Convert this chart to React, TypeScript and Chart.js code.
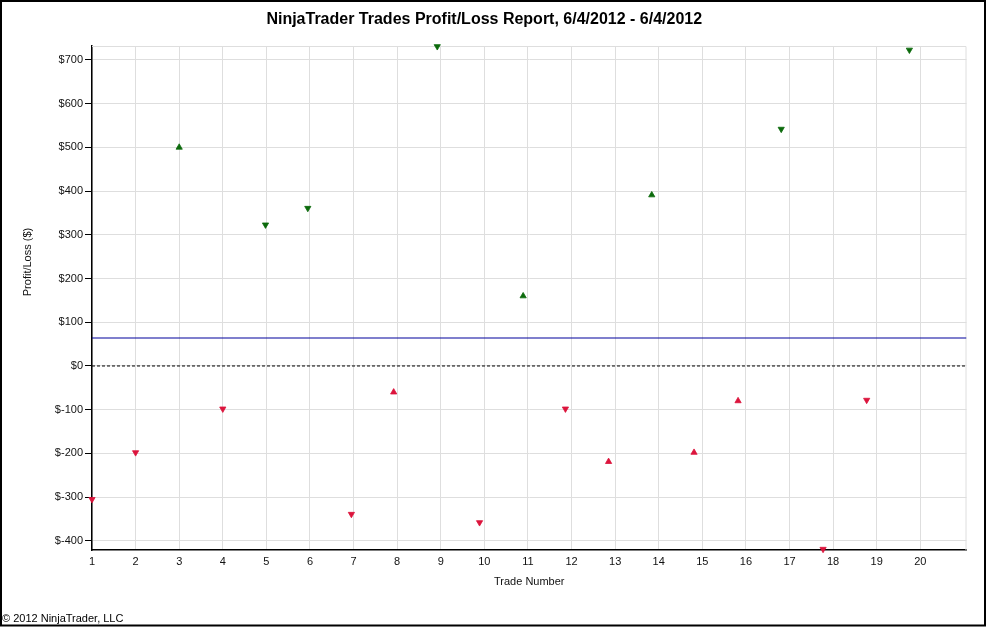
import React, { useEffect, useRef } from "react";
import { Chart, registerables } from "chart.js";

Chart.register(...registerables);

const chartTitle = "NinjaTrader Trades Profit/Loss Report, 6/4/2012 - 6/4/2012";
const xAxisTitle = "Trade Number";
const yAxisTitle = "Profit/Loss ($)";
const footerText = "© 2012 NinjaTrader, LLC";

// Trade positions along the x axis
const tradeNumbers = [1, 2, 3, 4, 4.98, 5.95, 6.95, 7.92, 8.92, 9.89, 10.89, 11.86, 12.85, 13.84, 14.81, 15.82, 16.81, 17.77, 18.77, 19.75];
// Profit / loss of each trade ($)
const profits = [-305, -198, 500, -98, 323, 361, -339, -60, 731, -358, 160, -98, -219, 391, -198, -80, 542, -419, -78, 723];
// Marker direction of each trade (up = long, down = short)
const directions = ["down", "down", "up", "down", "down", "down", "down", "up", "down", "down", "up", "down", "up", "up", "up", "up", "down", "down", "down", "down"];

const averageProfit = 64;
const zeroLevel = 0;

const xTickLabels = [1, 2, 3, 4, 5, 6, 7, 8, 9, 10, 11, 12, 13, 14, 15, 16, 17, 18, 19, 20];
const yTickValues = [-400, -300, -200, -100, 0, 100, 200, 300, 400, 500, 600, 700];

const xMin = 1;
const xMax = 21.06;
const yMin = -421;
const yMax = 732;

const profitColor = "#0b6a0b";
const lossColor = "#dc143c";
const FONT = "'Liberation Sans', Arial, sans-serif";

const framePlugin = {
  id: "framePlugin",
  beforeDatasetsDraw(chart: any) {
    const { ctx, chartArea } = chart;
    ctx.save();
    ctx.strokeStyle = "#dedede";
    ctx.lineWidth = 1;
    ctx.beginPath();
    ctx.moveTo(chartArea.left, chartArea.top + 0.5);
    ctx.lineTo(chartArea.right - 0.5, chartArea.top + 0.5);
    ctx.lineTo(chartArea.right - 0.5, chartArea.bottom);
    ctx.stroke();
    ctx.restore();
  },
  afterDraw(chart: any) {
    const { ctx, chartArea } = chart;
    ctx.save();
    // y axis title
    ctx.translate(28, (chartArea.top + chartArea.bottom) / 2 - 36);
    ctx.rotate(-Math.PI / 2);
    ctx.font = `11px ${FONT}`;
    ctx.fillStyle = "#111";
    ctx.textAlign = "center";
    ctx.textBaseline = "middle";
    ctx.fillText(yAxisTitle, 0, 0);
    ctx.restore();
    // outer frame
    ctx.save();
    ctx.strokeStyle = "#000";
    ctx.lineWidth = 2;
    ctx.strokeRect(1, 1, 984, 624.5);
    ctx.restore();
  },
};

export default function App() {
  const canvasRef = useRef<HTMLCanvasElement | null>(null);

  useEffect(() => {
    if (!canvasRef.current) return;
    Chart.defaults.font.family = FONT;
    const points = tradeNumbers.map((x, i) => ({ x, y: profits[i] }));
    const colors = profits.map((v) => (v >= 0 ? profitColor : lossColor));
    const rotations = directions.map((d) => (d === "up" ? 0 : 180));

    const chart = new Chart(canvasRef.current, {
      type: "scatter",
      data: {
        datasets: [
          {
            label: "Trades",
            data: points,
            pointStyle: "triangle",
            pointRadius: 3.6,
            pointBorderWidth: 0.8,
            pointBackgroundColor: colors,
            pointBorderColor: colors,
            pointRotation: rotations,
            showLine: false,
            clip: false,
            order: 0,
          },
          {
            type: "line",
            label: "Average",
            data: [
              { x: xMin, y: averageProfit },
              { x: xMax, y: averageProfit },
            ],
            borderColor: "#00009c",
            borderWidth: 1.2,
            pointRadius: 0,
            order: 1,
          },
          {
            type: "line",
            label: "Zero",
            data: [
              { x: xMin, y: zeroLevel },
              { x: xMax, y: zeroLevel },
            ],
            borderColor: "#000",
            borderWidth: 1,
            borderDash: [3, 2],
            pointRadius: 0,
            order: 2,
          },
        ],
      },
      options: {
        responsive: false,
        animation: false,
        events: [],
        layout: { padding: { left: 2, right: 19.5, top: 0, bottom: 0 } },
        plugins: {
          legend: { display: false },
          tooltip: { enabled: false },
          title: {
            display: true,
            text: chartTitle,
            color: "#000",
            font: { size: 16, weight: "bold", family: FONT },
            padding: { top: 9.5, bottom: 17.3 },
          },
          subtitle: {
            display: true,
            text: footerText,
            position: "bottom",
            align: "start",
            color: "#000",
            font: { size: 11, family: FONT },
            padding: { top: 0, bottom: 1 },
          },
        },
        scales: {
          x: {
            type: "linear",
            min: xMin,
            max: xMax,
            afterBuildTicks: (s: any) => {
              s.ticks = xTickLabels.map((v) => ({ value: v }));
            },
            afterFit: (s: any) => {
              s.height = 62.8;
            },
            ticks: {
              autoSkip: false,
              maxRotation: 0,
              padding: 5,
              color: "#111",
              font: { size: 11, family: FONT },
              callback: (v: any) => String(v),
            },
            grid: { color: "#dedede", drawTicks: false },
            border: { color: "#000", width: 1.5 },
            title: {
              display: true,
              text: xAxisTitle,
              color: "#111",
              font: { size: 11, family: FONT },
              padding: { top: 0, bottom: 24.2 },
            },
          },
          y: {
            type: "linear",
            min: yMin,
            max: yMax,
            afterBuildTicks: (s: any) => {
              s.ticks = yTickValues.map((v) => ({ value: v }));
            },
            afterFit: (s: any) => {
              s.width = 90;
            },
            ticks: {
              padding: 2,
              color: "#111",
              font: { size: 11, family: FONT },
              callback: (v: any) => "$" + v,
            },
            grid: { color: "#dedede", tickColor: "#000", tickLength: 7 },
            border: { color: "#000", width: 1.5 },
          },
        },
      },
      plugins: [framePlugin],
    } as any);

    return () => chart.destroy();
  }, []);

  return (
    <div style={{ position: "fixed", left: 0, top: 0, width: 986, height: 627, background: "#fff" }}>
      <canvas ref={canvasRef} width={986} height={627} style={{ display: "block" }} />
    </div>
  );
}
